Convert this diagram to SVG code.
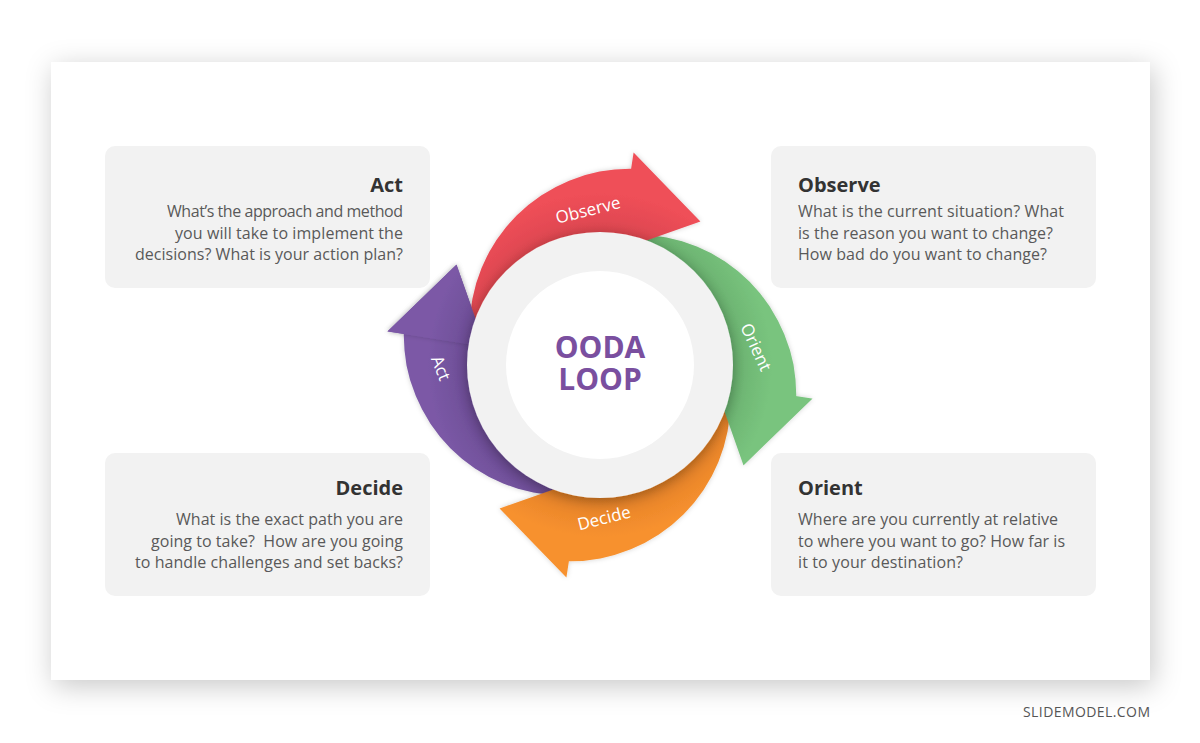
<svg xmlns="http://www.w3.org/2000/svg" xmlns:xlink="http://www.w3.org/1999/xlink" width="1200" height="743" viewBox="0 0 1200 743">
<defs>
<style>
.box{fill:#f2f2f2}
.ttl{font-family:"Open Sans","Liberation Sans",sans-serif;font-weight:700;font-size:20px;fill:#333333}
.txt{font-family:"Open Sans","Liberation Sans",sans-serif;font-size:16px;fill:#595959}
.lbl{font-family:"Open Sans","Liberation Sans",sans-serif;font-size:17px;fill:#ffffff;text-anchor:middle}
.core{font-family:"Open Sans","Liberation Sans",sans-serif;font-weight:700;font-size:30px;fill:#7a4f9f;text-anchor:middle}
.r{text-anchor:end}
</style>
<filter id="slideShadow" x="-10%" y="-10%" width="120%" height="125%">
<feDropShadow dx="3" dy="6" stdDeviation="14" flood-color="#000" flood-opacity="0.22"/>
</filter>
<filter id="ringShadow" x="-30%" y="-30%" width="160%" height="160%">
<feDropShadow dx="0" dy="3" stdDeviation="7" flood-color="#000" flood-opacity="0.33"/>
</filter>
<filter id="arrowShadow" x="-20%" y="-20%" width="140%" height="140%">
<feDropShadow dx="0" dy="0" stdDeviation="2.5" flood-color="#000" flood-opacity="0.18"/>
</filter>
<radialGradient id="gRed" gradientUnits="userSpaceOnUse" cx="600" cy="365" r="215">
<stop offset="0.6" stop-color="#db454f"/><stop offset="0.8" stop-color="#ef4f58"/></radialGradient>
<radialGradient id="gGreen" gradientUnits="userSpaceOnUse" cx="600" cy="365" r="215">
<stop offset="0.6" stop-color="#69b06e"/><stop offset="0.8" stop-color="#79c47e"/></radialGradient>
<radialGradient id="gOrange" gradientUnits="userSpaceOnUse" cx="600" cy="365" r="215">
<stop offset="0.6" stop-color="#e38027"/><stop offset="0.8" stop-color="#f7912f"/></radialGradient>
<radialGradient id="gPurple" gradientUnits="userSpaceOnUse" cx="600" cy="365" r="215">
<stop offset="0.6" stop-color="#6c4c95"/><stop offset="0.8" stop-color="#7b59a6"/></radialGradient>
<path id="arrow" d="M469.5,330 A160.4,160.4 0 0 1 631.1,168.7 L633.6,152.6 L700.4,221.6 L618.1,250.4 L617.2,256.4 A110,110 0 0 0 493.7,336.5 Z"/>
<path id="head" d="M633.6,152.6 L700.4,221.6 L618.1,250.4 L617.2,256.4 Z"/>
</defs>

<rect width="1200" height="743" fill="#ffffff"/>
<g id="slide">
<rect x="51" y="62" width="1099" height="618" fill="#ffffff" filter="url(#slideShadow)"/>
</g>

<g id="box-act">
<rect class="box" x="105" y="146" width="325" height="142" rx="10"/>
<text class="ttl r" x="403" y="192">Act</text>
<text class="txt r" x="403" y="217" textLength="236">What’s the approach and method</text>
<text class="txt r" x="403" y="238.5" textLength="228">you will take to implement the</text>
<text class="txt r" x="403" y="260" textLength="268">decisions? What is your action plan?</text>
</g>

<g id="box-observe">
<rect class="box" x="771" y="146" width="325" height="142" rx="10"/>
<text class="ttl" x="798" y="192">Observe</text>
<text class="txt" x="798" y="217" textLength="266">What is the current situation? What</text>
<text class="txt" x="798" y="238.5" textLength="255">is the reason you want to change?</text>
<text class="txt" x="798" y="260" textLength="249">How bad do you want to change?</text>
</g>

<g id="box-decide">
<rect class="box" x="105" y="453" width="325" height="143" rx="10"/>
<text class="ttl r" x="403" y="495">Decide</text>
<text class="txt r" x="403" y="525" textLength="227">What is the exact path you are</text>
<text class="txt r" x="403" y="546.5" textLength="252" xml:space="preserve">going to take?  How are you going</text>
<text class="txt r" x="403" y="568" textLength="268">to handle challenges and set backs?</text>
</g>

<g id="box-orient">
<rect class="box" x="771" y="453" width="325" height="143" rx="10"/>
<text class="ttl" x="798" y="495">Orient</text>
<text class="txt" x="798" y="525" textLength="260">Where are you currently at relative</text>
<text class="txt" x="798" y="546.5" textLength="267">to where you want to go? How far is</text>
<text class="txt" x="798" y="568" textLength="165">it to your destination?</text>
</g>

<g id="loop-arrows">
<use xlink:href="#arrow" href="#arrow" fill="url(#gPurple)" filter="url(#arrowShadow)" transform="rotate(270 600 365)"/>
<use xlink:href="#arrow" href="#arrow" fill="url(#gOrange)" filter="url(#arrowShadow)" transform="rotate(180 600 365)"/>
<use xlink:href="#arrow" href="#arrow" fill="url(#gGreen)" filter="url(#arrowShadow)" transform="rotate(90 600 365)"/>
<use xlink:href="#arrow" href="#arrow" fill="url(#gRed)" filter="url(#arrowShadow)"/>
<use xlink:href="#head" href="#head" fill="url(#gPurple)" filter="url(#arrowShadow)" transform="rotate(270 600 365)"/>
</g>

<g id="center">
<circle cx="600" cy="365" r="133" fill="#f2f2f2" filter="url(#ringShadow)"/>
<circle cx="600" cy="365" r="94" fill="#ffffff"/>
<text class="core" x="600" y="358">OODA<tspan x="600" y="390">LOOP</tspan></text>
</g>

<g id="arrow-labels">
<text class="lbl" transform="translate(588,210) rotate(-14)" y="6">Observe</text>
<text class="lbl" transform="translate(756,347) rotate(65)" y="6">Orient</text>
<text class="lbl" transform="translate(604,518) rotate(-14)" y="6">Decide</text>
<text class="lbl" transform="translate(441,368) rotate(68)" y="6">Act</text>
</g>

<text x="1150" y="717" text-anchor="end" font-family="'Open Sans','Liberation Sans',sans-serif" font-size="14" fill="#555555" textLength="127">SLIDEMODEL.COM</text>
</svg>
